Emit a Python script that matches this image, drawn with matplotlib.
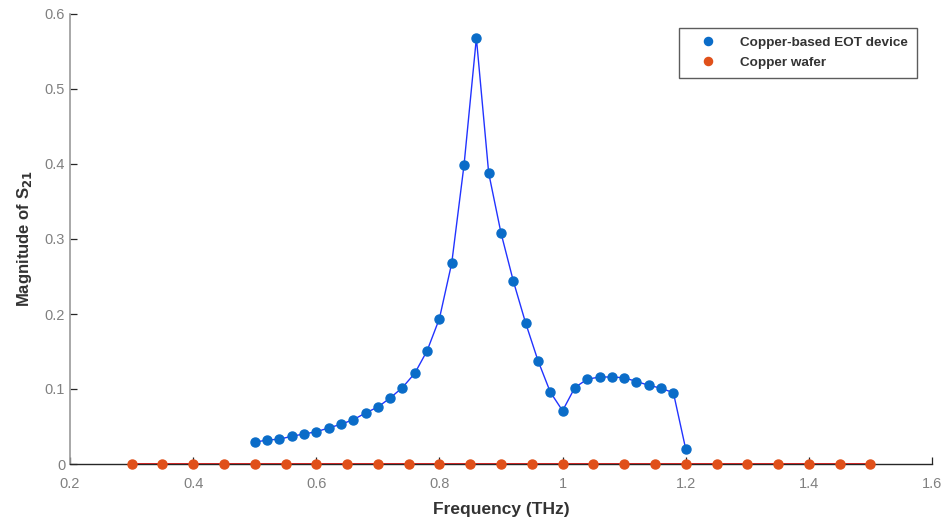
import matplotlib
matplotlib.use("Agg")
import matplotlib.pyplot as plt
import numpy as np

plt.rcParams['font.family'] = ['Liberation Sans', 'DejaVu Sans']

# Data
freq_eot = [0.50, 0.52, 0.54, 0.56, 0.58, 0.60, 0.62, 0.64, 0.66, 0.68,
            0.70, 0.72, 0.74, 0.76, 0.78, 0.80, 0.82, 0.84, 0.86, 0.88,
            0.90, 0.92, 0.94, 0.96, 0.98, 1.00, 1.02, 1.04, 1.06, 1.08,
            1.10, 1.12, 1.14, 1.16, 1.18, 1.20]
s21_eot = [0.029, 0.032, 0.033, 0.037, 0.040, 0.043, 0.048, 0.053, 0.059, 0.068,
           0.076, 0.088, 0.102, 0.121, 0.151, 0.194, 0.268, 0.399, 0.568, 0.388,
           0.308, 0.244, 0.188, 0.138, 0.096, 0.071, 0.102, 0.113, 0.116, 0.116,
           0.115, 0.110, 0.105, 0.101, 0.095, 0.020]
freq_wafer = [0.30, 0.35, 0.40, 0.45, 0.50, 0.55, 0.60, 0.65, 0.70, 0.75,
              0.80, 0.85, 0.90, 0.95, 1.00, 1.05, 1.10, 1.15, 1.20, 1.25,
              1.30, 1.35, 1.40, 1.45, 1.50]
s21_wafer = [0.0] * len(freq_wafer)

xticks = [0.2, 0.4, 0.6, 0.8, 1.0, 1.2, 1.4, 1.6]
xticklabels = ['0.2', '0.4', '0.6', '0.8', '1', '1.2', '1.4', '1.6']
yticks = [0, 0.1, 0.2, 0.3, 0.4, 0.5, 0.6]
yticklabels = ['0', '0.1', '0.2', '0.3', '0.4', '0.5', '0.6']

fig = plt.figure(figsize=(9.47, 5.2), dpi=100)
ax = fig.add_axes([70/947, 56/520, (932-70)/947, (464-14)/520])

ax.plot(freq_eot, s21_eot, color='#2233ff', lw=1.0, zorder=2)
ax.plot(freq_wafer, s21_wafer, color='#ee1111', lw=1.3, zorder=2, clip_on=False)
ax.plot(freq_eot, s21_eot, 'o', color='#0a6cc8', ms=6.5, zorder=3,
        label='Copper-based EOT device')
ax.plot(freq_wafer, s21_wafer, 'o', color='#e0501a', ms=6.5, zorder=4,
        label='Copper wafer', clip_on=False)

ax.set_xlim(0.2, 1.6)
ax.set_ylim(0, 0.6)
ax.set_xticks(xticks)
ax.set_xticklabels(xticklabels)
ax.set_yticks(yticks)
ax.set_yticklabels(yticklabels)

for s in ['top', 'right']:
    ax.spines[s].set_visible(False)
ax.spines['left'].set_color('#9a9a9a')
ax.spines['left'].set_linewidth(1.2)
ax.spines['bottom'].set_color('#262626')
ax.spines['bottom'].set_linewidth(1.0)

ax.tick_params(direction='in', length=5, width=0.9, colors='#262626',
               labelcolor='#808080', labelsize=10.5)
ax.tick_params(axis='x', pad=9)

ax.set_xlabel('Frequency (THz)', fontsize=12.5, fontweight='bold', color='#333333', labelpad=8)
ax.set_ylabel('Magnitude of S$_{\\mathbf{21}}$', fontsize=12, fontweight='bold', color='#333333', labelpad=8)

leg = ax.legend(loc='upper right',
                bbox_to_anchor=((917 - 70) / 862, (464 - 28) / 450),
                bbox_transform=ax.transAxes, borderaxespad=0,
                frameon=True, fancybox=False,
                handletextpad=0.9, borderpad=0.65, labelspacing=0.55,
                handlelength=3.0, markerscale=0.9,
                prop={'weight': 'bold', 'size': 9.7})
leg.get_frame().set_edgecolor('#333333')
leg.get_frame().set_linewidth(1.0)
for t in leg.get_texts():
    t.set_color('#333333')

fig.savefig('out.png', dpi=100)
